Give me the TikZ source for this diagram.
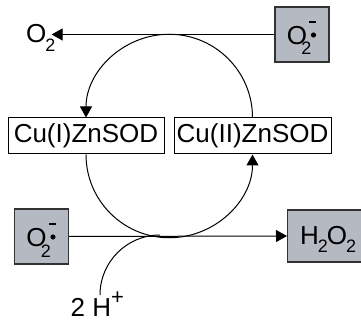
\documentclass[tikz,border=0pt]{standalone}
\usepackage{fontspec}
\setmainfont{Liberation Sans}
\usetikzlibrary{arrows.meta}
\definecolor{boxgray}{RGB}{181,185,193}
\definecolor{boxline}{RGB}{50,50,50}
\begin{document}
\begin{tikzpicture}[x=1pt,y=-1pt,
  big/.style={font=\fontsize{26}{30}\selectfont, inner sep=0pt},
  sub/.style={font=\fontsize{18}{20}\selectfont, inner sep=0pt},
  enz/.style={draw, line width=1pt, minimum height=36pt, inner sep=0pt, font=\fontsize{26}{30}\selectfont},
  gbox/.style={draw=boxline, fill=boxgray, line width=1.2pt, inner sep=0pt},
  arr/.style={line width=1pt, -{Triangle[length=11pt,width=12pt]}},
  ln/.style={line width=1pt},
  superox/.pic={
    \node[gbox, minimum width=54pt, minimum height=55pt] (-box) at (0,0) {};
    \node[big, anchor=base] at (-5,10.5) {O};
    \node[sub, anchor=base] at (4.5,20.5) {2};
    \fill (7,-13.5) rectangle (14,-11.2);
    \fill (11.5,0.5) circle (2.6pt);
  }]
\useasboundingbox (0,0) rectangle (361,320);
% radical boxes
\pic (top) at (302,34.5) {superox};
\pic (low) at (41.5,236.5) {superox};
% product box
\node[gbox, minimum width=84pt, minimum height=52pt, anchor=west] (h2o2) at (287,236) {};
\node[big, anchor=base west] (h2o2txt) at (300,244) {H\kern-1pt\raisebox{-8pt}{\fontsize{18}{18}\selectfont 2}\kern-1pt O\kern-1pt\raisebox{-8pt}{\fontsize{18}{18}\selectfont 2}};
% O2 label
\node[big, anchor=base west] (o2top) at (26,43) {O\kern-1pt\raisebox{-9pt}{\fontsize{18}{18}\selectfont 2}};
% enzyme boxes
\node[enz, minimum width=156pt] (cuI) at (86,136) {Cu(I)ZnSOD};
\node[enz, minimum width=157pt] (cuII) at (252.5,136) {Cu(II)ZnSOD};
% 2H+ label
\node[big, anchor=base west] (hplus) at (70.5,316.5) {2 H\raisebox{12pt}{\fontsize{22}{22}\selectfont +}};
\coordinate (hs) at (100,295);
% connectors
\draw[arr, shorten >=-4pt] (top-box.west) -- (top-box.west -| o2top.east);
\draw[arr] (low-box.east) -- (h2o2.west);
\draw[arr] (cuII.north) arc[start angle=0, end angle=-180, radius=83.25];
\draw[arr] (cuI.south) arc[start angle=180, end angle=0, radius=83.25];
\draw[ln] (hs) arc[start angle=180, end angle=270, radius=60];
\end{tikzpicture}
\end{document}
